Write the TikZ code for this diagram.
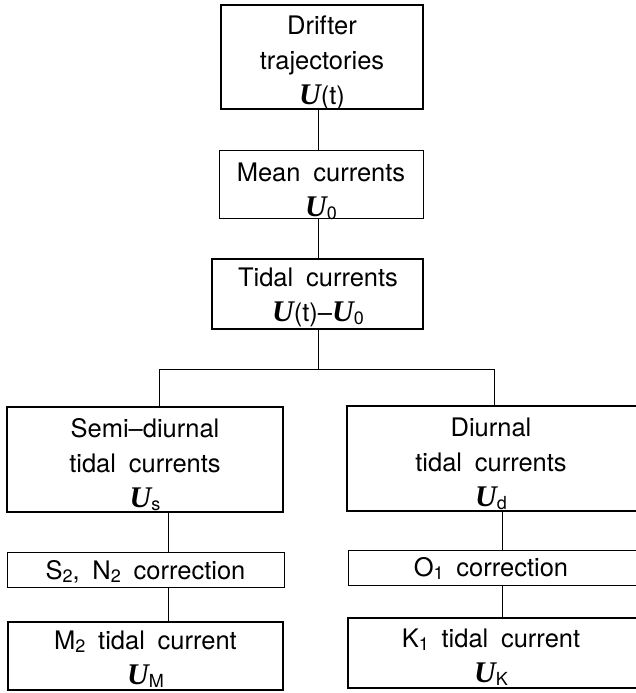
\documentclass[tikz,border=0pt]{standalone}
\usepackage{fontspec}
\setmainfont{TeX Gyre Heros}
\newfontfamily\ufont{Liberation Serif}
\newcommand{\Ub}{{\fontsize{30}{35}\selectfont\ufont\bfseries\itshape U}}
\newcommand{\sbx}[1]{\raisebox{-0.22ex}{\fontsize{18}{18}\selectfont #1}}
\newcommand{\boxfont}{\fontsize{25.5}{35}\selectfont\spaceskip=0.5em plus 0.1em\relax}
\tikzset{
  box/.style={draw, inner sep=0pt},
  thickbox/.style={box, line width=2pt},
  thinbox/.style={box, line width=1pt},
  txt/.style={inner sep=0pt, align=center, font=\boxfont},
  conn/.style={line width=1pt}
}
\begin{document}
\begin{tikzpicture}[x=1pt,y=-1pt]
\useasboundingbox (0,0) rectangle (635,693);
% boxes
\node[thickbox, minimum width=202pt, minimum height=103pt] (drift) at (322,57) {};
\node[thinbox, minimum width=204pt, minimum height=68pt] (mean) at (321,184) {};
\node[thickbox, minimum width=211pt, minimum height=70pt] (tidal) at (317.5,294) {};
\node[thickbox, minimum width=276pt, minimum height=105pt] (semi) at (145,459.5) {};
\node[thickbox, minimum width=293pt, minimum height=105pt] (diur) at (493.5,458.5) {};
\node[thinbox, minimum width=277pt, minimum height=35pt] (s2) at (145.5,569.5) {};
\node[thinbox, minimum width=292pt, minimum height=35pt] (o1) at (494,567.5) {};
\node[thickbox, minimum width=275pt, minimum height=68pt] (m2) at (145.5,656) {};
\node[thickbox, minimum width=292pt, minimum height=70pt] (k1) at (494,653) {};
% texts
\node[txt] (drift-t) at (322,63) {Drifter\\trajectories\\{\Ub}(t)};
\node[txt] (mean-t) at (321,191) {Mean currents\\{\Ub}\sbx{0}};
\node[txt] (tidal-t) at (318,297) {Tidal currents\\{\Ub}(t)–{\Ub}\sbx{0}};
\node[txt] (semi-t) at (145,465) {Semi–diurnal\\tidal currents\\{\Ub}\sbx{s}};
\node[txt] (diur-t) at (491,464) {Diurnal\\tidal currents\\{\Ub}\sbx{d}};
\node[txt] (s2-t) at (145.5,571.5) {S\sbx{2}, N\sbx{2} correction};
\node[txt] (o1-t) at (491,568.5) {O\sbx{1} correction};
\node[txt] (m2-t) at (145.5,659) {M\sbx{2} tidal current\\{\Ub}\sbx{M}};
\node[txt] (k1-t) at (491,657) {K\sbx{1} tidal current\\{\Ub}\sbx{K}};
% connectors
\coordinate (cx) at (318,0);
\coordinate (lx) at (168,0);
\coordinate (rx) at (502,0);
\coordinate (jl) at (159,369);
\coordinate (jr) at (494,369);
\draw[conn] (drift.south -| cx) -- (mean.north -| cx);
\draw[conn] (mean.south -| cx) -- (tidal.north -| cx);
\draw[conn] (tidal.south -| cx) -- (jl -| cx);
\draw[conn] (semi.north -| jl) -- (jl) -- (jr) -- (diur.north -| jr);
\draw[conn] (semi.south -| lx) -- (s2.north -| lx);
\draw[conn] (s2.south -| lx) -- (m2.north -| lx);
\draw[conn] (diur.south -| rx) -- (o1.north -| rx);
\draw[conn] (o1.south -| rx) -- (k1.north -| rx);
\end{tikzpicture}
\end{document}
